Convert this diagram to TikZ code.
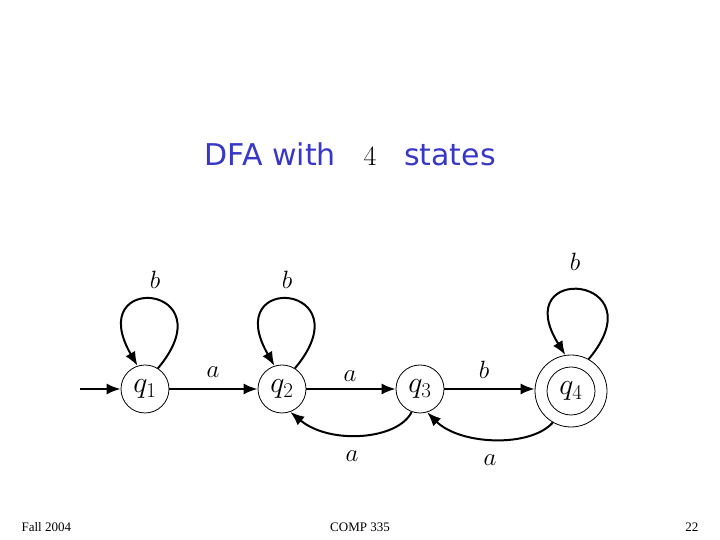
\RequirePackage{fix-cm}
\documentclass[tikz,border=0pt]{standalone}
\usepackage{fontspec}
\setmainfont{Liberation Serif}
\newfontfamily\titlefont{DejaVu Sans}
\usetikzlibrary{arrows.meta}
\definecolor{titleblue}{RGB}{55,55,200}
\begin{document}
\begin{tikzpicture}[x=1pt,y=1pt,
  state/.style={circle,draw,line width=0.8pt,minimum size=48pt,inner sep=0pt,font=\fontsize{30}{32}\selectfont},
  edge/.style={line width=2pt,-{Latex[length=14pt,width=11pt]}},
  lbl/.style={font=\fontsize{25}{27}\selectfont},
  foot/.style={font=\fontsize{13}{15}\selectfont}]
\useasboundingbox (0,0) rectangle (720,540);
% title
\node[anchor=base east,text=titleblue,font=\titlefont\fontsize{30}{32}\selectfont,inner sep=0pt] (t1) at (336,374) {DFA with};
\node[anchor=base,font=\fontsize{28}{30}\selectfont,inner sep=0pt] (t2) at (370,374) {$4$};
\node[anchor=base west,text=titleblue,font=\titlefont\fontsize{30}{32}\selectfont,inner sep=0pt] (t3) at (404,374) {states};
% states
\node[state] (q1) at (145,151) {$q_1$};
\node[state] (q2) at (282,151) {$q_2$};
\node[state] (q3) at (420,151) {$q_3$};
\node[state,minimum size=72pt] (q4) at (571,149) {};
\node[state] (q4i) at (571,149) {$q_4$};
\coordinate (init) at (80,151);
% edges
\draw[edge] (init) -- (q1);
\draw[edge] (q1) -- (q2);
\draw[edge] (q2) -- (q3);
\draw[edge] (q3.east) -- (q3.east -| q4.west);
\draw[edge] (q3.250) .. controls (398,100) and (330,95) .. (q2.-70);
\draw[edge] (q4.240) .. controls (530,92) and (460,95) .. (q3.-73);
\draw[edge] (q1.58) .. controls +(50:110) and +(120:110) .. (q1.108);
\draw[edge] (q2.58) .. controls +(50:110) and +(120:110) .. (q2.108);
\draw[edge] (q4.61) .. controls +(50:110) and +(122:110) .. (q4.99);
% labels
\node[lbl] (la1) at (213,168) {$a$};
\node[lbl] (la2) at (350,164) {$a$};
\node[lbl] (lb3) at (484,170) {$b$};
\node[lbl] (la4) at (352,84) {$a$};
\node[lbl] (la5) at (490,80) {$a$};
\node[lbl] (lb1) at (155,260) {$b$};
\node[lbl] (lb2) at (287,260) {$b$};
\node[lbl] (lb4) at (575,278) {$b$};
% footer
\node[foot,anchor=base west] (f1) at (18,8) {Fall 2004};
\node[foot,anchor=base] (f2) at (360,8) {COMP 335};
\node[foot,anchor=base east] (f3) at (702,8) {22};
\end{tikzpicture}
\end{document}
